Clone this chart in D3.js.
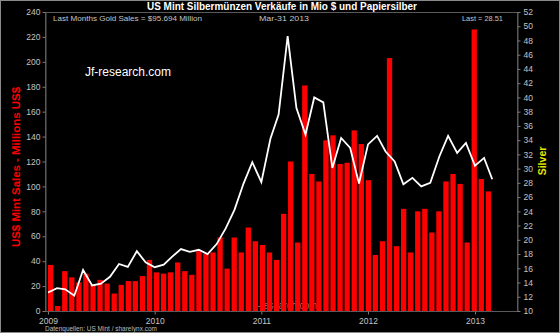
<!DOCTYPE html>
<html>
<head>
<meta charset="utf-8">
<script src="https://cdn.jsdelivr.net/npm/d3@7"></script>
<style>
  html, body { margin: 0; padding: 0; background: #000; }
  svg { display: block; }
  text { font-family: "Liberation Sans", Arial, sans-serif; }
</style>
</head>
<body>
<svg id="chart" width="560" height="333"></svg>
<script>
// ---- data ----
const titleText = "US Mint Silbermünzen Verkäufe in Mio $ und Papiersilber";
const leftTitle = "US$ Mint Sales - Millions US$";
const rightTitle = "Silver";
const infoLeft = "Last Months Gold Sales  = $95.694 Million";
const infoMid = "Mar-31  2013";
const infoRight = "Last = 28.51";

// Mint sales bars (millions US$), in drawing order
const salesValues = [
  37, 4, 32, 27, 23, 30, 21, 25, 22, 14, 21, 24, 24, 28, 41,
  31, 30, 31, 39, 32, 29, 48, 46, 47, 59, 34, 59, 47, 67, 56,
  53, 47, 41, 78, 120, 55, 181, 110, 104, 137, 141, 118, 119, 145, 134,
  105, 45, 56, 203, 52, 82, 47, 80, 82, 63, 80, 104, 110, 102, 55,
  226, 106, 96
];
const salesSlots = salesValues.map((_, i) => "b" + i);

// Silver price, monthly
const silverMonths = [
  "2009-01","2009-02","2009-03","2009-04","2009-05","2009-06","2009-07","2009-08","2009-09","2009-10","2009-11","2009-12",
  "2010-01","2010-02","2010-03","2010-04","2010-05","2010-06","2010-07","2010-08","2010-09","2010-10","2010-11","2010-12",
  "2011-01","2011-02","2011-03","2011-04","2011-05","2011-06","2011-07","2011-08","2011-09","2011-10","2011-11","2011-12",
  "2012-01","2012-02","2012-03","2012-04","2012-05","2012-06","2012-07","2012-08","2012-09","2012-10","2012-11","2012-12",
  "2013-01","2013-02","2013-03"
];
const silverValues = [
  12.6, 13.2, 13.05, 12.15, 15.76, 13.6, 13.84, 14.8, 16.6, 16.2, 18.4, 16.84,
  16.15, 16.5, 17.6, 18.7, 18.3, 18.6, 18.0, 19.4, 21.6, 24.2, 27.9, 30.9,
  28.1, 34.2, 37.6, 48.6, 38.5, 34.8, 40.0, 39.3, 30.1, 34.3, 32.9, 27.9,
  33.4, 34.6, 32.4, 31.0, 27.8, 28.7, 27.5, 28.0, 31.7, 34.6, 32.2, 33.6,
  30.4, 31.5, 28.51
];

const leftTicks = [0, 20, 40, 60, 80, 100, 120, 140, 160, 180, 200, 220, 240];
const rightTicks = [10,12,14,16,18,20,22,24,26,28,30,32,34,36,38,40,42,44,46,48,50,52];
const yearTicks = ["2009", "2010", "2011", "2012", "2013"];

// ---- drawing ----
const svg = d3.select("#chart");
const W = 560, H = 333;
const plot = { left: 45, right: 517, top: 12, bottom: 311 };

svg.append("rect").attr("x", 0).attr("y", 0).attr("width", W).attr("height", H).attr("fill", "#000");
svg.append("rect").attr("x", 0.5).attr("y", 0.5).attr("width", W - 1).attr("height", H - 1)
  .attr("fill", "none").attr("stroke", "#8a8a8a").attr("stroke-width", 1);

const parse = d3.timeParse("%Y-%m");
const yL = d3.scaleLinear().domain([0, 240]).range([plot.bottom, plot.top]);
const yR = d3.scaleLinear().domain([10, 52]).range([plot.bottom, plot.top]);
const xBar = d3.scaleBand().domain(salesSlots).range([48, 491]).paddingInner(0.25).paddingOuter(0);
const xTime = d3.scaleTime().domain([parse("2009-01"), parse("2013-01")]).range([48, 475]);

// frame
svg.append("rect").attr("x", plot.left + 0.5).attr("y", plot.top + 0.5)
  .attr("width", plot.right - plot.left).attr("height", plot.bottom - plot.top)
  .attr("fill", "none").attr("stroke", "#5a5a5a").attr("stroke-width", 1);

// watermarks
svg.append("text").attr("x", 85).attr("y", 76).attr("fill", "#ffffff")
  .attr("font-size", 12).text("Jf-research.com");
svg.append("text").attr("x", 253).attr("y", 309).attr("fill", "#8c8c8c")
  .attr("font-size", 11).attr("textLength", 64).attr("lengthAdjust", "spacingAndGlyphs")
  .text("jf-research.com");

// bars
svg.append("g").selectAll("rect").data(salesValues).join("rect")
  .attr("x", (d, i) => xBar(salesSlots[i]))
  .attr("width", xBar.bandwidth())
  .attr("y", d => yL(d))
  .attr("height", d => yL(0) - yL(d))
  .attr("fill", "#ff0000");

// silver line
const line = d3.line()
  .x((d, i) => xTime(parse(silverMonths[i])))
  .y(d => yR(d));
svg.append("path").datum(silverValues).attr("d", line)
  .attr("fill", "none").attr("stroke", "#ffffff").attr("stroke-width", 1.8)
  .attr("stroke-linejoin", "miter");

// axes
function styleAxis(g) {
  g.select(".domain").attr("stroke", "#5a5a5a");
  g.selectAll(".tick line").attr("stroke", "#7a7a7a");
  g.selectAll(".tick text").attr("fill", "#c4c4c4").attr("font-size", 8.5)
    .attr("font-family", "'Liberation Sans', Arial, sans-serif");
}
svg.append("g").attr("transform", `translate(${plot.left + 0.5},0)`)
  .call(d3.axisLeft(yL).tickValues(leftTicks).tickSize(3).tickPadding(2).tickSizeOuter(0))
  .call(styleAxis);
svg.append("g").attr("transform", `translate(${plot.right + 0.5},0)`)
  .call(d3.axisRight(yR).tickValues(rightTicks).tickSize(3).tickPadding(3).tickSizeOuter(0))
  .call(styleAxis);
svg.append("g").attr("transform", `translate(0,${plot.bottom + 0.5})`)
  .call(d3.axisBottom(xTime).tickValues(yearTicks.map(y => d3.timeParse("%Y")(y)))
    .tickFormat(d3.timeFormat("%Y")).tickSize(3).tickPadding(3).tickSizeOuter(0))
  .call(styleAxis)
  .call(g => g.select(".domain").remove());

// titles
svg.append("text").attr("x", 282).attr("y", 10).attr("text-anchor", "middle")
  .attr("fill", "#ffffff").attr("font-size", 11).attr("font-weight", "bold")
  .attr("textLength", 270).attr("lengthAdjust", "spacingAndGlyphs").text(titleText);

svg.append("text").attr("transform", "translate(20,167) rotate(-90)")
  .attr("text-anchor", "middle").attr("fill", "#ff0000").attr("font-size", 10.5)
  .attr("font-weight", "bold").attr("textLength", 160).attr("lengthAdjust", "spacingAndGlyphs")
  .text(leftTitle);
svg.append("text").attr("transform", "translate(546,161) rotate(-90)")
  .attr("text-anchor", "middle").attr("fill", "#e6e600").attr("font-size", 10.5)
  .attr("font-weight", "bold").text(rightTitle);

// info line
const info = svg.append("g").attr("fill", "#c4c4c4").attr("font-size", 8);
info.append("text").attr("x", 53).attr("y", 21).attr("textLength", 149)
  .attr("lengthAdjust", "spacingAndGlyphs").text(infoLeft);
info.append("text").attr("x", 259).attr("y", 21).attr("textLength", 50)
  .attr("lengthAdjust", "spacingAndGlyphs").text(infoMid);
info.append("text").attr("x", 462).attr("y", 21).attr("textLength", 41)
  .attr("lengthAdjust", "spacingAndGlyphs").text(infoRight);

// source
svg.append("text").attr("x", 45).attr("y", 331).attr("fill", "#bdbdbd")
  .attr("font-size", 7).attr("textLength", 112).attr("lengthAdjust", "spacingAndGlyphs")
  .text("Datenquellen: US Mint / sharelynx.com");
</script>
</body>
</html>
